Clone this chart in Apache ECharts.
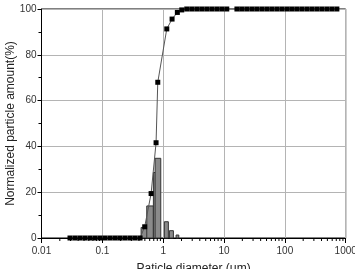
<!DOCTYPE html>
<html><head><meta charset="utf-8">
<script src="https://cdn.jsdelivr.net/npm/echarts@6/dist/echarts.min.js"></script>
<style>html,body{margin:0;padding:0;background:#fff}#c{width:355px;height:269px}</style>
</head><body><div id="c"></div>
<script>
// Cumulative curve: particle diameter (um) and cumulative amount (%)
const cumDiameter = [0.0294,0.0356,0.0430,0.0519,0.0628,0.0759,0.0916,0.1107,0.134,0.162,0.195,0.236,0.286,0.345,0.417,
  0.497,0.633,0.764,0.815,1.146,1.40,1.71,2.02,
  2.44,2.95,3.57,4.31,5.21,6.30,7.62,9.20,11.1,16.3,19.6,23.7,28.7,34.6,41.9,50.6,61.1,73.9,89.3,108,130,157,190,230,278,336,406,491,593,716];
const cumAmount = [0,0,0,0,0,0,0,0,0,0,0,0,0,0,0,
  4.9,19.4,41.6,68,91.3,95.6,98.5,99.6,
  100,100,100,100,100,100,100,100,100,100,100,100,100,100,100,100,100,100,100,100,100,100,100,100,100,100,100,100,100,100];
// Histogram bins: left edge, right edge (um), amount (%)
const binLeft  = [0.434,0.537,0.690,0.736,1.046,1.265,1.63];
const binRight = [0.571,0.690,0.866,0.913,1.217,1.472,1.806];
const binValue = [4.6,14.0,28.6,34.8,7.1,3.2,1.3];
// Axis ticks
const xTickLabels = ['0.01','0.1','1','10','100','1000'];
const yTicks = [0,20,40,60,80,100];
const xMinorTicks = [0.02,0.03,0.04,0.05,0.06,0.07,0.08,0.09,0.2,0.3,0.4,0.5,0.6,0.7,0.8,0.9,2,3,4,5,6,7,8,9,20,30,40,50,60,70,80,90,200,300,400,500,600,700,800,900];

const chart = echarts.init(document.getElementById('c'), null, {renderer:'canvas'});
const font = 'Liberation Sans';
chart.setOption({
  animation:false,
  backgroundColor:'#fff',
  grid:{left:41.5,right:9.3,top:9,bottom:31,show:true,borderColor:'#000',borderWidth:1,containLabel:false,outerBoundsMode:'none'},
  xAxis:{type:'log',logBase:10,min:0.01,max:1000,
    name:'Paticle diameter (μm)',nameLocation:'middle',nameGap:25,nameMoveOverlap:false,
    nameTextStyle:{fontFamily:font,fontSize:12,color:'#222'},
    axisLine:{lineStyle:{color:'#000',width:1}},
    axisTick:{show:true,length:5,lineStyle:{color:'#000'}},
    axisLabel:{fontFamily:font,fontSize:10,color:'#333',margin:8,
      formatter:(v)=>{const i=Math.round(Math.log10(v))+2;return xTickLabels[i]!==undefined?xTickLabels[i]:'';}},
    splitLine:{show:true,lineStyle:{color:'#b4b4b4',width:1}}},
  yAxis:{type:'value',min:0,max:100,interval:20,
    name:'Normalized particle amount(%)',nameLocation:'middle',nameGap:25,nameMoveOverlap:false,
    nameTextStyle:{fontFamily:font,fontSize:12,color:'#222'},
    axisLine:{show:true,lineStyle:{color:'#000',width:1}},
    axisTick:{show:true,length:4,lineStyle:{color:'#000'}},
    minorTick:{show:true,splitNumber:2,length:3,lineStyle:{color:'#000'}},
    axisLabel:{fontFamily:font,fontSize:10,color:'#333',margin:5,
      formatter:(v)=>yTicks.indexOf(v)>=0?String(v):''},
    splitLine:{show:true,lineStyle:{color:'#b4b4b4',width:1}}},
  series:[
    {type:'custom',name:'bins',clip:false,
      data:binLeft.map((l,i)=>[l,binRight[i],binValue[i]]),
      encode:{x:[0,1],y:2},
      renderItem:(params,api)=>{
        const p1=api.coord([api.value(0),api.value(2)]);
        const p2=api.coord([api.value(1),0]);
        return {type:'rect',shape:{x:p1[0],y:p1[1],width:p2[0]-p1[0],height:p2[1]-p1[1]},
          style:{fill:'#8a8a8a',stroke:'#333',lineWidth:1}};
      },z:2},
    {type:'custom',name:'minorTicks',clip:false,silent:true,
      data:xMinorTicks.map(v=>[v,0]),
      encode:{x:0,y:1},
      renderItem:(params,api)=>{
        const p=api.coord([api.value(0),0]);
        return {type:'line',shape:{x1:p[0],y1:p[1],x2:p[0],y2:p[1]+3},style:{stroke:'#000',lineWidth:1}};
      },z:5},
    {type:'line',name:'cumulative',
      data:cumDiameter.map((d,i)=>[d,cumAmount[i]]),
      symbol:'rect',symbolSize:5,showSymbol:true,
      itemStyle:{color:'#000'},
      lineStyle:{color:'#555',width:1},z:4}
  ]
});
</script></body></html>
